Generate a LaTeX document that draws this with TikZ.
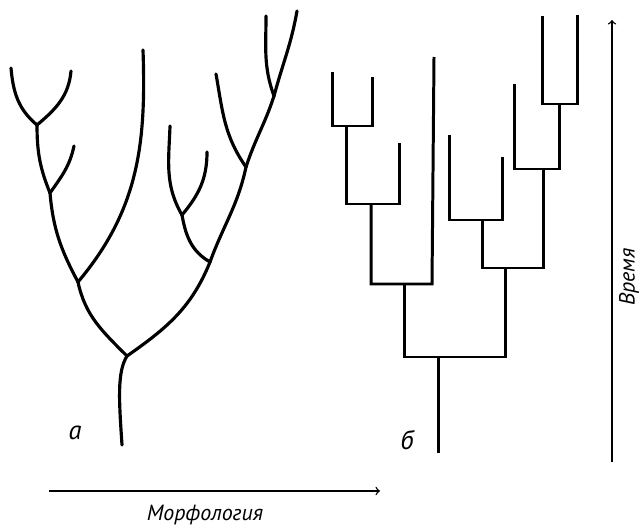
\documentclass[tikz,border=0pt]{standalone}
\usepackage{fontspec}
\setmainfont{PT Sans}
\usepackage{tikz}

\tikzset{
  branch/.style={line width=1.8pt, line cap=round},
  clade/.style={line width=1.7pt, line join=miter},
  axis/.style={line width=0.8pt, ->},
  lbl/.style={inner sep=0pt, font=\itshape\fontsize{15}{15}\selectfont},
  axlbl/.style={inner sep=0pt, font=\itshape\fontsize{12.5}{12.5}\selectfont}
}

\begin{document}
\begin{tikzpicture}[x=0.02cm,y=0.02cm]
\useasboundingbox (0,0) rectangle (644,-530);
% tree a
\coordinate (a0) at (122,-445);
\coordinate (a1) at (127,-356);
\coordinate (a2) at (78,-282);
\coordinate (a3) at (210,-262);
\coordinate (a4) at (50,-193);
\coordinate (a5) at (37,-125);
\coordinate (a6) at (182,-215);
\coordinate (a7) at (246,-167);
\coordinate (a8) at (274,-96);
\coordinate (e1) at (11,-68);
\coordinate (e2) at (71,-71);
\coordinate (e3) at (74,-146);
\coordinate (e4) at (143,-50);
\coordinate (e5) at (170,-126);
\coordinate (e6) at (207,-152);
\coordinate (e7) at (216,-74);
\coordinate (e8) at (266,-16);
\coordinate (e9) at (297,-11);
\draw [branch] (a0) .. controls (119,-400) and (117,-372) .. (a1);
\draw [branch] (a1) to[out=135,in=-78] (a2);
\draw [branch] (a1) to[out=35,in=-112] (a3);
\draw [branch] (a2) to[out=118,in=-85] (a4);
\draw [branch] (a2) to[out=50,in=-88] (e4);
\draw [branch] (a4) to[out=112,in=-90] (a5);
\draw [branch] (a4) to[out=55,in=-102] (e3);
\draw [branch] (a5) to[out=140,in=-85] (e1);
\draw [branch] (a5) to[out=40,in=-95] (e2);
\draw [branch] (a3) to[out=150,in=-80] (a6);
\draw [branch] (a3) to[out=70,in=-102] (a7);
\draw [branch] (a6) to[out=120,in=-92] (e5);
\draw [branch] (a6) to[out=50,in=-90] (e6);
\draw [branch] (a7) to[out=125,in=-80] (e7);
\draw [branch] (a7) to[out=72,in=-108] (a8);
\draw [branch] (a8) to[out=110,in=-90] (e8);
\draw [branch] (a8) to[out=75,in=-100] (e9);
\node [lbl] (la) at (75,-433) {а};
% tree b
\coordinate (b0) at (438,-453);
\coordinate (r1l) at (404,-357);
\coordinate (r1r) at (505,-357);
\coordinate (r2l) at (371,-284);
\coordinate (r2r) at (432,-284);
\coordinate (r3l) at (346,-204);
\coordinate (r3r) at (399,-204);
\coordinate (r4l) at (332,-126);
\coordinate (r4r) at (372,-126);
\coordinate (r5l) at (482,-268);
\coordinate (r5r) at (543,-268);
\coordinate (r6l) at (449,-220);
\coordinate (r6r) at (502,-220);
\coordinate (r7l) at (514,-169);
\coordinate (r7r) at (559,-169);
\coordinate (r8l) at (542,-104);
\coordinate (r8r) at (577,-104);
\coordinate (s1) at (434,-57);
\coordinate (s2) at (399,-143);
\coordinate (s3) at (332,-72);
\coordinate (s4) at (372,-77);
\coordinate (s5) at (449,-135);
\coordinate (s6) at (502,-157);
\coordinate (s7) at (514,-84);
\coordinate (s8) at (542,-16);
\coordinate (s9) at (577,-15);
\draw [clade] (b0) -- (b0 |- r1l);
\draw [clade] (r1l |- r2l) -- (r1l) -- (r1r) -- (r1r |- r5r);
\draw [clade] (s1) -- (r2r) -- (r2l) -- (r2l |- r3l);
\draw [clade] (s2) -- (r3r) -- (r3l) -- (r3l |- r4l);
\draw [clade] (s3) -- (r4l) -- (r4r) -- (s4);
\draw [clade] (r5l |- r6l) -- (r5l) -- (r5r) -- (r5r |- r7l);
\draw [clade] (s5) -- (r6l) -- (r6r) -- (s6);
\draw [clade] (s7) -- (r7l) -- (r7r) -- (r7r |- r8l);
\draw [clade] (s8) -- (r8l) -- (r8r) -- (s9);
\node [lbl] (lb) at (407,-440) {б};
% axes
\coordinate (m0) at (49,-491);
\coordinate (m1) at (380,-491);
\coordinate (t0) at (612,-462);
\coordinate (t1) at (612,-20);
\draw [axis] (m0) -- (m1);
\draw [axis] (t0) -- (t1);
\node [axlbl] (morph) at (205,-515) {Морфология};
\node [axlbl, rotate=90] (time) at (629,-277) {Время};
\end{tikzpicture}
\end{document}
